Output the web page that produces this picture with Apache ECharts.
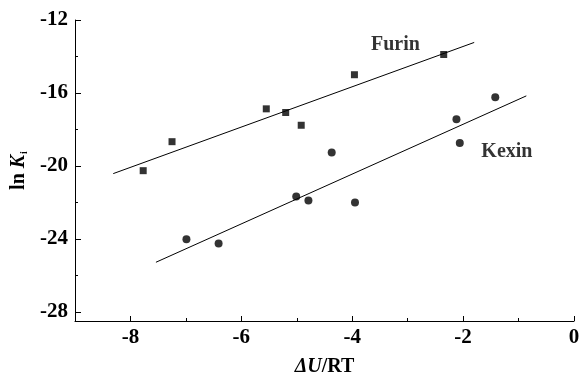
<!DOCTYPE html>
<html>
<head>
<meta charset="utf-8">
<script src="https://cdn.jsdelivr.net/npm/echarts@6/dist/echarts.min.js"></script>
<style>
html,body{margin:0;padding:0;background:#fff;}
#c{width:579px;height:376px;}
</style>
</head>
<body>
<div id="c"></div>
<script>
// Data
var furinX = [-7.77, -7.25, -5.55, -5.20, -4.92, -3.96, -2.35];
var furinY = [-20.26, -18.67, -16.87, -17.07, -17.77, -15.00, -13.89];
var kexinX = [-6.99, -6.41, -5.01, -4.79, -4.37, -3.95, -2.12, -2.06, -1.42];
var kexinY = [-24.02, -24.25, -21.67, -21.89, -19.27, -22.00, -17.44, -18.74, -16.23];
var furinFitX = [-8.31, -1.80];
var furinFitY = [-20.42, -13.23];
var kexinFitX = [-7.54, -0.86];
var kexinFitY = [-25.28, -16.16];
var xTickLabels = [-8, -6, -4, -2, 0];
var xMinorTicks = [-9, -7, -5, -3, -1];
var yTickLabels = [-28, -24, -20, -16, -12];
var yMinorTicks = [-26, -22, -18, -14];
var seriesNames = ['Furin', 'Kexin'];
var labelPos = [[-3.22, -13.37], [-1.21, -19.24]];

function zip(a, b) { return a.map(function (v, i) { return [v, b[i]]; }); }

var FONT = 'Liberation Serif';
var chart = echarts.init(document.getElementById('c'), null, {renderer: 'canvas'});
var baseX = {
  type: 'value', min: -9, max: 0, gridIndex: 0, position: 'bottom',
  splitLine: {show: false}
};
var baseY = {
  type: 'value', min: -28.5, max: -12, gridIndex: 0, position: 'left',
  splitLine: {show: false}
};
chart.setOption({
  backgroundColor: '#fff',
  animation: false,
  textStyle: {fontFamily: FONT},
  grid: {left: 75, right: 5, top: 20, bottom: 55, containLabel: false, outerBoundsMode: 'none'},
  xAxis: [
    Object.assign({}, baseX, {
      axisLine: {show: true, onZero: false, lineStyle: {color: '#000', width: 1}},
      axisTick: {show: true, inside: true, length: 5, customValues: xTickLabels, lineStyle: {color: '#000'}},
      axisLabel: {customValues: xTickLabels, color: '#000', fontFamily: FONT, fontWeight: 'bold', fontSize: 21, margin: 6},
      name: '{it|ΔU}/RT', nameLocation: 'middle', nameGap: 36,
      nameTextStyle: {color: '#000', fontFamily: FONT, fontWeight: 'bold', fontSize: 20,
        rich: {it: {fontStyle: 'italic', fontWeight: 'bold', fontFamily: FONT, fontSize: 20, color: '#000'}}}
    }),
    Object.assign({}, baseX, {
      axisLine: {show: false, onZero: false},
      axisTick: {show: true, inside: true, length: 3, customValues: xMinorTicks, lineStyle: {color: '#000'}},
      axisLabel: {show: false}
    })
  ],
  yAxis: [
    Object.assign({}, baseY, {
      axisLine: {show: true, onZero: false, lineStyle: {color: '#000', width: 1}},
      axisTick: {show: true, inside: true, length: 6, customValues: yTickLabels, lineStyle: {color: '#000'}},
      axisLabel: {customValues: yTickLabels, color: '#000', fontFamily: FONT, fontWeight: 'bold', fontSize: 21, margin: 7},
      name: 'ln {it|K}{sub|i}', nameLocation: 'middle', nameGap: 44, nameRotate: 90,
      nameTextStyle: {color: '#000', fontFamily: FONT, fontWeight: 'bold', fontSize: 20,
        rich: {
          it: {fontStyle: 'italic', fontWeight: 'bold', fontFamily: FONT, fontSize: 20, color: '#000'},
          sub: {fontFamily: FONT, fontSize: 10, color: '#000', padding: [10, 0, 0, 1]}
        }}
    }),
    Object.assign({}, baseY, {
      axisLine: {show: false, onZero: false},
      axisTick: {show: true, inside: true, length: 3, customValues: yMinorTicks, lineStyle: {color: '#000'}},
      axisLabel: {show: false}
    })
  ],
  series: [
    {type: 'line', data: zip(furinFitX, furinFitY), showSymbol: false, symbol: 'none',
      lineStyle: {color: '#000', width: 1}, silent: true},
    {type: 'line', data: zip(kexinFitX, kexinFitY), showSymbol: false, symbol: 'none',
      lineStyle: {color: '#000', width: 1}, silent: true},
    {type: 'scatter', name: seriesNames[0], data: zip(furinX, furinY), symbol: 'rect', symbolSize: 7,
      itemStyle: {color: '#000'}},
    {type: 'scatter', name: seriesNames[1], data: zip(kexinX, kexinY), symbol: 'circle', symbolSize: 8,
      itemStyle: {color: '#000'}},
    {type: 'scatter', data: labelPos.map(function (p, i) { return {value: p, name: seriesNames[i]}; }),
      symbolSize: 0, silent: true,
      label: {show: true, position: 'inside', formatter: '{b}', color: '#000', fontFamily: FONT, fontWeight: 'bold', fontSize: 20}}
  ]
});
</script>
</body>
</html>
